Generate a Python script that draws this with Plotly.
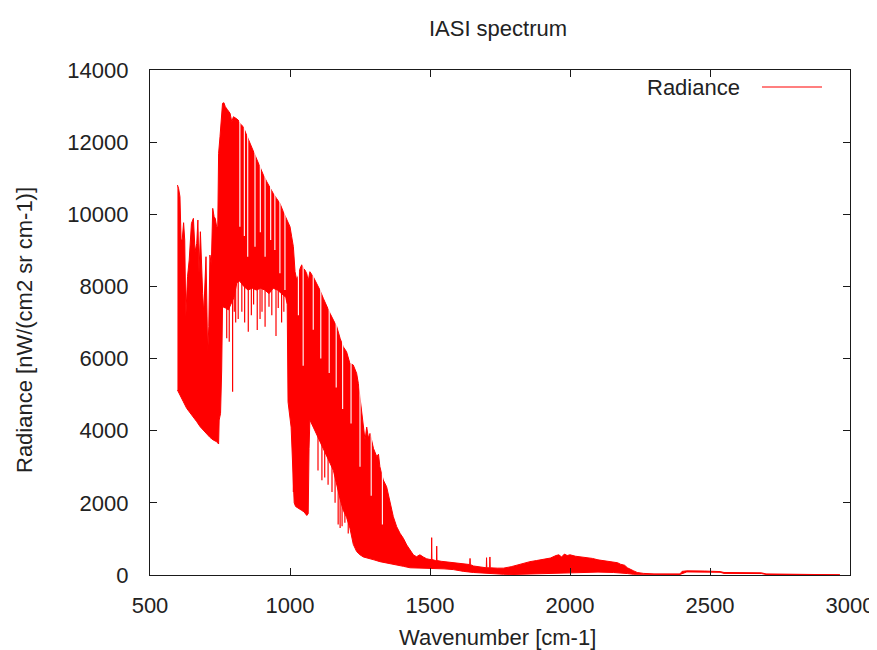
import numpy as np
import plotly.graph_objects as go

# ---- data (wavenumber in cm-1, radiance in nW/(cm2 sr cm-1)) ----
# upper envelope of the dense spectrum
up_wn = [598, 602, 607, 611, 615, 620, 624, 628, 634, 640, 648, 655, 661, 667, 671, 675, 680, 684,
         688, 692, 696, 700, 706, 710, 714, 719, 724, 729, 733, 738, 742, 745, 750, 754, 759, 764,
         769, 776, 786, 792, 798, 807, 815, 821, 833, 845, 857, 869, 881, 893, 905, 917, 929, 940,
         952, 964, 976, 988, 1000, 1006, 1012, 1018, 1024, 1030, 1036, 1042, 1048, 1054, 1060, 1065,
         1071, 1083, 1095, 1107, 1119, 1131, 1143, 1155, 1167, 1179, 1190, 1202, 1214, 1226, 1238,
         1244, 1250, 1256, 1262, 1268, 1274, 1280, 1286, 1298, 1310, 1316, 1321, 1333, 1345, 1357,
         1369, 1381, 1393, 1405, 1417, 1429, 1441, 1452, 1464, 1476, 1488, 1500, 1505, 1506, 1507,
         1520, 1523, 1524, 1525, 1540, 1560, 1583, 1600, 1620, 1642, 1643, 1644, 1655, 1680, 1701,
         1702, 1703, 1713, 1714, 1715, 1740, 1762, 1790, 1820, 1857, 1880, 1900, 1930, 1950, 1960,
         1970, 1980, 1990, 2000, 2020, 2040, 2060, 2080, 2100, 2120, 2140, 2155, 2170, 2180, 2195,
         2205, 2215, 2226, 2240, 2262, 2300, 2393, 2400, 2417, 2480, 2536, 2550, 2684, 2700, 2964]
up_rad = [10811, 10719, 10488, 9286, 9286, 9767, 9286, 7161, 8270, 8732, 9748, 9887, 8963, 9194, 9841,
          8362, 9517, 8362, 7808, 7254, 7900, 8824, 6145, 6884, 8870, 8593, 10164, 9933, 9887, 9656,
          9656, 11689, 12151, 12567, 13075, 13093, 12982, 12908, 12798, 12567, 12705, 12659, 12613,
          12520, 12428, 12197, 11966, 11781, 11550, 11273, 11088, 10903, 10719, 10580, 10441, 10303,
          10072, 9887, 9656, 9379, 9102, 8409, 8178, 8300, 8500, 8600, 8500, 8450, 8350, 8150,
          8408, 8270, 8085, 7900, 7669, 7438, 7253, 7068, 6884, 6560, 6329, 6190, 5867, 5821, 5590,
          5313, 4943, 4481, 4112, 3742, 4100, 3800, 3927, 3511, 3280, 3350, 3003, 2633, 2448, 1986,
          1617, 1340, 1155, 1016, 831, 693, 554, 508, 560, 500, 450, 430, 430, 1035, 430,
          400, 400, 800, 400, 380, 360, 330, 320, 300, 290, 460, 290, 250, 220, 200,
          480, 200, 200, 500, 200, 190, 190, 230, 300, 370, 400, 430, 470, 540, 560,
          500, 580, 540, 560, 520, 500, 490, 460, 420, 400, 380, 370, 340, 300, 270,
          200, 170, 120, 70, 45, 30, 30, 100, 115, 110, 95, 70, 60, 30, 20]

# lower envelope of the dense band
lo_wn = [598, 607, 619, 631, 643, 655, 667, 679, 690, 702, 714, 726, 738, 745, 747, 752, 756, 759,
         770, 780, 790, 800, 810, 820, 835, 850, 865, 880, 895, 910, 925, 940, 955, 970, 985, 990,
         993, 1004, 1010, 1015, 1020, 1030, 1040, 1050, 1060, 1065, 1068, 1071, 1083, 1095, 1107,
         1119, 1131, 1143, 1155, 1167, 1179, 1190, 1202, 1214, 1226, 1238, 1250, 1262, 1280, 1300,
         1321, 1340, 1357, 1381, 1405, 1429, 1464, 1500, 1550, 1583, 1620, 1655, 1700, 1762, 1800,
         1857, 1900, 1950, 2000, 2060, 2100, 2155, 2205, 2226, 2262, 2300, 2393, 2417, 2536, 2550,
         2684, 2700, 2964]
lo_rad = [5128, 4990, 4805, 4620, 4482, 4371, 4250, 4112, 4001, 3909, 3816, 3742, 3696, 3631, 4297,
          4481, 5683, 7438, 7400, 7350, 7500, 7700, 8100, 8150, 8000, 7900, 7950, 7900, 7950, 7900,
          7800, 7950, 7900, 7800, 7700, 7500, 4800, 4100, 2900, 2000, 1900, 1850, 1800, 1750, 1650,
          1700, 3500, 4300, 4100, 3900, 3700, 3500, 3300, 3100, 2900, 2500, 2100, 1800, 1600, 1300,
          850, 650, 560, 500, 460, 420, 370, 330, 300, 277, 240, 200, 200, 180, 170, 150, 100, 70,
          40, 20, 15, 30, 40, 50, 60, 70, 80, 70, 40, 20, 20, 15, 15, 85, 75, 45, 40, 15, 5]

# deep absorption lines reaching below the dense band
spike_wn = [774, 783, 795, 801, 806, 815, 828, 838, 851, 862, 870, 883, 893, 900, 911, 925, 935,
            950, 958, 970, 978, 988, 1012, 1100, 1114, 1124, 1136, 1150, 1161, 1172, 1179, 1186,
            1196, 1208]
spike_rad = [6560, 6468, 5082, 7300, 7000, 7100, 7300, 7000, 6745, 7200, 7500, 6791, 7100, 7300,
             6884, 7438, 7200, 6625, 7400, 7000, 7300, 7623, 2300, 2900, 2630, 2700, 2500, 2300,
             2000, 1400, 1300, 1350, 1450, 1150]

# gaps inside the band (lines that do not reach the upper envelope)
notch_wn = [821, 837, 849, 875, 894, 911, 931, 946, 964, 982, 1030, 1047, 1083, 1110, 1140, 1165,
            1188, 1218, 1250, 1290, 1330]
notch_rad = [9656, 9400, 8824, 9100, 9500, 8824, 9286, 9010, 8362, 7900, 7200, 5800, 6800, 6000,
             5600, 5200, 4600, 4200, 3000, 2200, 1400]

x_ticks = [500, 1000, 1500, 2000, 2500, 3000]
y_ticks = [0, 2000, 4000, 6000, 8000, 10000, 12000, 14000]
y_tick_labels = ["0", "2000", "4000", "6000", "8000", "10000", "12000", "14000"]

RED = "#ff0000"
FONT = "Liberation Sans, Arial, sans-serif"
TXT = "#222222"


def nearest(wl, vl, w):
    i = int(np.argmin(np.abs(np.asarray(wl, dtype=float) - w)))
    return vl[i]


fig = go.Figure()

# dense band
fig.add_trace(go.Scatter(
    x=up_wn + lo_wn[::-1], y=up_rad + lo_rad[::-1],
    mode="lines", fill="toself", fillcolor=RED,
    line=dict(color=RED, width=1), hoverinfo="skip", showlegend=False))

# deep lines
sx, sy = [], []
for w, r in zip(spike_wn, spike_rad):
    top = min(nearest(lo_wn, lo_rad, w) + 600, nearest(up_wn, up_rad, w))
    sx += [w, w, None]
    sy += [r, top, None]
fig.add_trace(go.Scatter(x=sx, y=sy, mode="lines", line=dict(color=RED, width=1.2),
                         hoverinfo="skip", showlegend=False))

# gaps
nx, ny = [], []
for w, r in zip(notch_wn, notch_rad):
    nx += [w, w, None]
    ny += [r, nearest(up_wn, up_rad, w) + 400, None]
fig.add_trace(go.Scatter(x=nx, y=ny, mode="lines", line=dict(color="white", width=1.1),
                         hoverinfo="skip", showlegend=False))

axis_common = dict(
    showline=True, linecolor="#1a1a1a", linewidth=1.2, mirror="ticks",
    ticks="inside", ticklen=7, tickwidth=1, tickcolor="#1a1a1a",
    showgrid=False, zeroline=False, ticklabeloverflow="allow", automargin=False,
    tickfont=dict(family=FONT, size=22, color=TXT),
)

fig.update_xaxes(range=[500, 3000], tickmode="array", tickvals=x_ticks,
                 ticklabelstandoff=10, **axis_common)
fig.update_yaxes(range=[0, 14000], tickmode="array", tickvals=y_ticks, ticktext=y_tick_labels,
                 ticklabelstandoff=16, **axis_common)

# the page body has an 8 px margin; the figure starts 8 px in
W, H = 869, 642
fig.update_layout(
    width=W, height=H, autosize=False,
    margin=dict(l=142, r=W - 842, t=62, b=H - 567),
    plot_bgcolor="white", paper_bgcolor="white",
    font=dict(family=FONT, size=22, color=TXT),
    showlegend=False,
    title=dict(text="IASI spectrum", x=490 / W, xref="container", xanchor="center",
               y=1 - 20 / H, yref="container", yanchor="middle",
               font=dict(family=FONT, size=22, color=TXT)),
    annotations=[
        dict(text="Wavenumber [cm-1]", xref="paper", yref="paper", x=0.497, y=(575 - 637) / 505,
             xanchor="center", yanchor="middle", showarrow=False,
             font=dict(family=FONT, size=22, color=TXT)),
        dict(text="Radiance [nW/(cm2 sr cm-1)]", xref="paper", yref="paper",
             x=(24 - 150) / 700, y=(575 - 330) / 505, textangle=-90,
             xanchor="center", yanchor="middle", showarrow=False,
             font=dict(family=FONT, size=22, color=TXT)),
        dict(text="Radiance", xref="paper", yref="paper", x=(742 - 150) / 700,
             y=(575 - 87) / 505, xanchor="right", yanchor="middle", showarrow=False,
             font=dict(family=FONT, size=22, color=TXT)),
    ],
    shapes=[dict(type="line", xref="paper", yref="paper", x0=(762 - 150) / 700,
                 x1=(822 - 150) / 700, y0=(575 - 87) / 505, y1=(575 - 87) / 505,
                 line=dict(color=RED, width=1.2))],
)

fig.write_html("out.html", config={"responsive": False})
